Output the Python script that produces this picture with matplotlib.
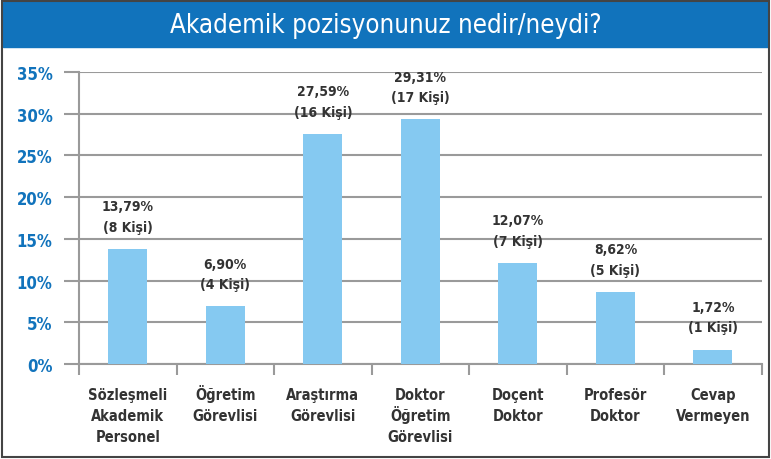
import matplotlib.pyplot as plt
import matplotlib.patches as patches
import numpy as np

categories = ["Sözleşmeli\nAkademik\nPersonel", "Öğretim\nGörevlisi", "Araştırma\nGörevlisi",
              "Doktor\nÖğretim\nGörevlisi", "Doçent\nDoktor", "Profesör\nDoktor", "Cevap\nVermeyen"]
percents = [13.79, 6.90, 27.59, 29.31, 12.07, 8.62, 1.72]
counts = [8, 4, 16, 17, 7, 5, 1]
yticks = [0, 5, 10, 15, 20, 25, 30, 35]

title = "Akademik pozisyonunuz nedir/neydi?"
bar_color = "#85c9f1"
blue = "#1173bc"
grid_gray = "#9a9a9a"
text_gray = "#333333"

plt.rcParams["font.family"] = "DejaVu Sans"
plt.rcParams["font.stretch"] = "condensed"

fig = plt.figure(figsize=(7.71, 4.6), dpi=100)
ax = fig.add_axes([0.1025, 0.2065, 0.8855, 0.6348])

x = np.arange(len(categories))
bars = ax.bar(x, percents, 0.4, color=bar_color, zorder=3)

for rect, p, c in zip(bars, percents, counts):
    label = "{}%\n({} Kişi)".format(("%.2f" % p).replace(".", ","), c)
    ax.annotate(label, xy=(rect.get_x() + rect.get_width() / 2, rect.get_height()),
                xytext=(0, 11), textcoords="offset points",
                ha="center", va="bottom", fontsize=10, color=text_gray,
                linespacing=1.6, fontweight="bold", stretch="condensed")

ax.set_xlim(-0.5, len(categories) - 0.5)
ax.set_ylim(0, 35)
ax.set_yticks(yticks)
ax.set_yticklabels(["{}%".format(t) for t in yticks], color=blue, fontsize=12,
                   fontweight="bold", stretch="condensed")
ax.yaxis.grid(True, color=grid_gray, linewidth=1.5, zorder=0)
ax.tick_params(axis="y", length=11, width=1.5, color=grid_gray, pad=8)

# category labels, one text per line so accents don't stretch the spacing
ax.set_xticks(x)
ax.set_xticklabels([])
for xi, cat in zip(x, categories):
    for j, line in enumerate(cat.split("\n")):
        ax.annotate(line, xy=(xi, 0), xycoords=("data", "axes fraction"),
                    xytext=(0, -25 - 15.2 * j), textcoords="offset points",
                    ha="center", va="baseline", fontsize=10.5, color=text_gray,
                    fontweight="bold", stretch="condensed")
ax.set_xticks(np.arange(len(categories) + 1) - 0.5, minor=True)
ax.tick_params(axis="x", which="major", length=0)
ax.tick_params(axis="x", which="minor", length=8, width=1.5, color=grid_gray)

for s in ["top", "right"]:
    ax.spines[s].set_visible(False)
for s in ["left", "bottom"]:
    ax.spines[s].set_color(grid_gray)
    ax.spines[s].set_linewidth(1.5)

# title band and frame
fig.patches.append(patches.Rectangle((3 / 771, 1 - 48 / 460), 765 / 771, 45 / 460,
                                     transform=fig.transFigure, color=blue, zorder=0))
fig.patches.append(patches.Rectangle((2 / 771, 2 / 460), 767 / 771, 456 / 460,
                                     transform=fig.transFigure, fill=False,
                                     edgecolor="#444444", linewidth=1.5, zorder=5))
fig.text(0.5, 1 - 26 / 460, title, ha="center", va="center", color="white",
         fontsize=18.5, stretch="condensed")

fig.savefig("out.png", dpi=100)
